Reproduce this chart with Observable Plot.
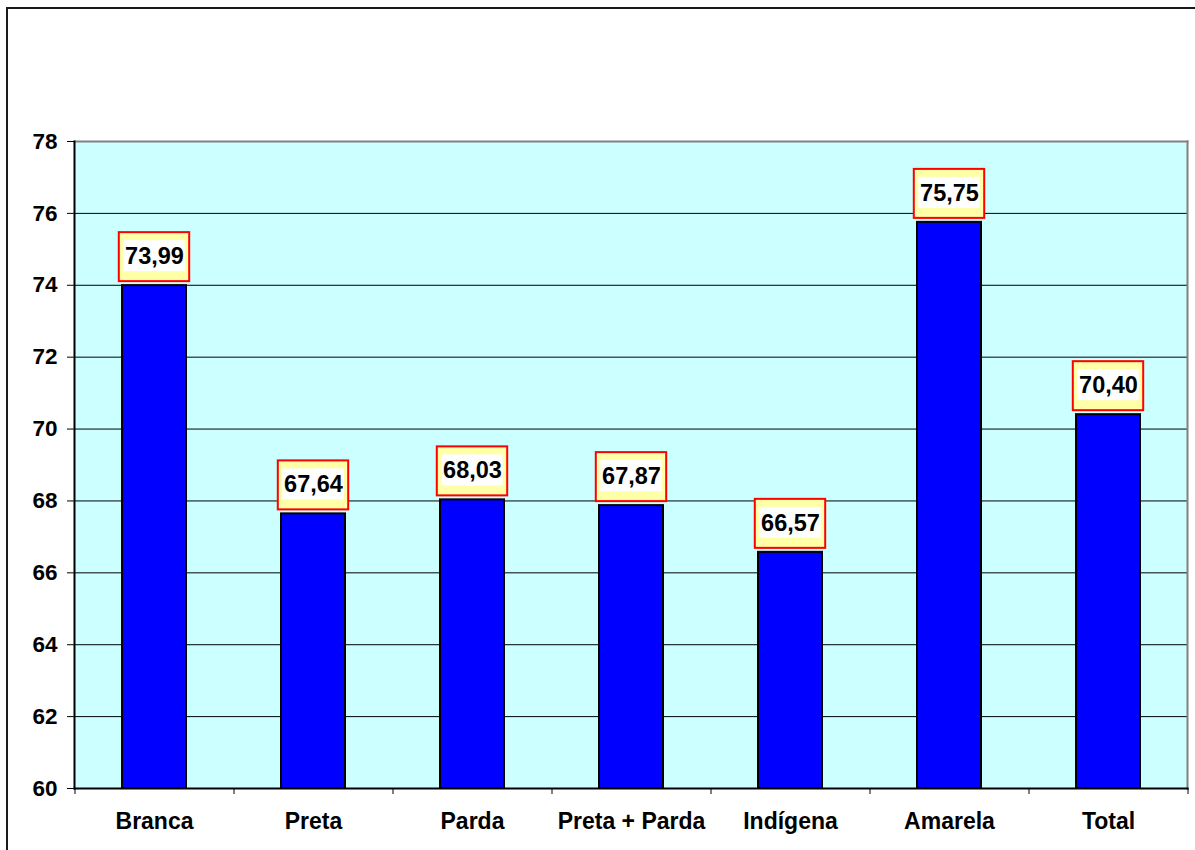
<!DOCTYPE html>
<html><head><meta charset="utf-8">
<script src="https://cdn.jsdelivr.net/npm/d3@7"></script>
<script src="https://cdn.jsdelivr.net/npm/@observablehq/plot@0.6"></script>
<style>
html,body{margin:0;padding:0;background:#fff;overflow:hidden;}
#wrap{position:relative;width:1195px;height:850px;overflow:hidden;}
#border{position:absolute;left:6px;top:7px;width:1200px;height:860px;border:2px solid #1a1a1a;pointer-events:none;}
#chart{position:absolute;left:0;top:0;}
</style></head><body>
<div id="wrap"><div id="border"></div><div id="chart"></div></div>
<script>
const categories = ["Branca", "Preta", "Parda", "Preta + Parda", "Indígena", "Amarela", "Total"];
const values = [73.99, 67.64, 68.03, 67.87, 66.57, 75.75, 70.40];
const yTicks = [60, 62, 64, 66, 68, 70, 72, 74, 76, 78];

const data = categories.map((c, i) => ({cat: c, value: values[i], label: values[i].toFixed(2).replace(".", ",")}));

const W = 1195, H = 850, mL = 74, mR = 8, mT = 141, mB = 62;
const step = (W - mL - mR) / categories.length;
const font = "'Liberation Sans', Arial, sans-serif";

const chart = Plot.plot({
  width: W, height: H,
  marginLeft: mL, marginRight: mR, marginTop: mT, marginBottom: mB,
  style: {fontFamily: font, fontWeight: "bold", background: "transparent", overflow: "visible", color: "#000"},
  x: {domain: categories, paddingInner: 0.6, paddingOuter: 0.3, axis: null},
  y: {domain: [60, 78], axis: null},
  marks: [
    Plot.frame({fill: "#CCFFFF", stroke: null}),
    Plot.gridY(yTicks.filter(t => t > 60 && t < 78), {stroke: "#000", strokeOpacity: 1, strokeWidth: 1}),
    Plot.frame({anchor: "top", stroke: "#808080", strokeWidth: 2}),
    Plot.frame({anchor: "right", stroke: "#808080", strokeWidth: 2}),
    Plot.barY(data, {x: "cat", y1: 60, y2: "value", fill: "#0000FF", stroke: "#000", strokeWidth: 2}),
    Plot.barY(data, {x: "cat", y1: "value", y2: "value", fill: "#FFFFA8", stroke: "#FF0000", strokeWidth: 2,
      insetTop: -53, insetBottom: 4, insetLeft: -3.2, insetRight: -3.2}),
    Plot.barY(data, {x: "cat", y1: "value", y2: "value", fill: "#FFFFFF",
      insetTop: -45, insetBottom: 14, insetLeft: 1.3, insetRight: 1.3}),
    Plot.text(data, {x: "cat", y: "value", text: "label", dy: -29, fontSize: 23.5, fontWeight: "bold", fill: "#000", lineAnchor: "middle"}),
    Plot.frame({anchor: "left", stroke: "#000", strokeWidth: 2}),
    Plot.frame({anchor: "bottom", stroke: "#000", strokeWidth: 2}),
    Plot.axisY(yTicks, {tickSize: 7, tickPadding: 10, fontSize: 22.5, fontWeight: "bold", stroke: "#000", fill: "#000", label: null}),
    Plot.axisX(categories, {tickSize: 6, tickFormat: () => "", dx: -step / 2, stroke: "#000", label: null}),
    Plot.axisX(["Total"], {tickSize: 6, tickFormat: () => "", dx: step / 2, stroke: "#000", label: null}),
    Plot.axisX(categories, {tickSize: 0, tickPadding: 24, fontSize: 23, fontWeight: "bold", fill: "#000", label: null})
  ]
});
document.getElementById("chart").appendChild(chart);
</script>
</body></html>
